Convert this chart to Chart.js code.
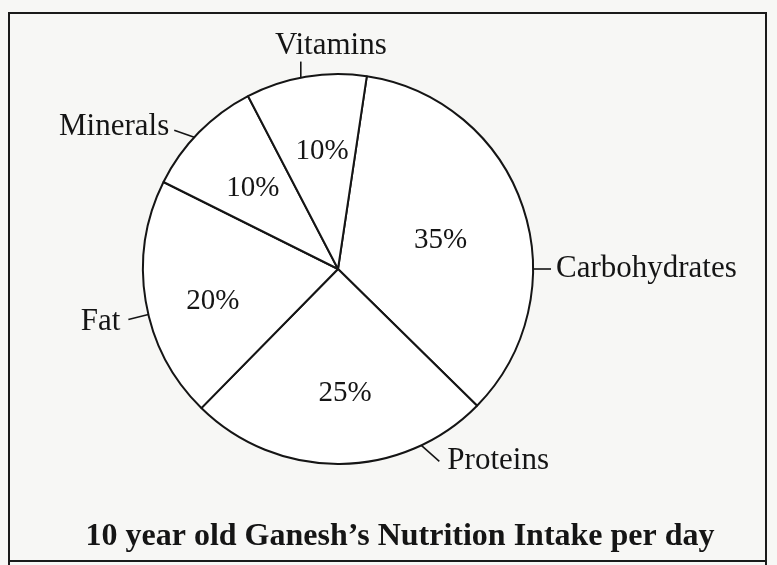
<!DOCTYPE html>
<html lang="en">
<head>
    <meta charset="UTF-8">
    <title>10 year old Ganesh's Nutrition Intake per day</title>
    <script src="https://cdn.jsdelivr.net/npm/chart.js@4.4.4/dist/chart.umd.min.js"></script>
    <style>
        html, body { margin: 0; padding: 0; background: #f7f7f5; }
        .chart-container { width: 777px; height: 565px; position: relative; }
    </style>
</head>
<body>
    <div class="chart-container">
        <canvas id="pie-chart"></canvas>
    </div>

    <script>
        // Data
        const nutrients = ['Carbohydrates', 'Proteins', 'Fat', 'Minerals', 'Vitamins'];
        const shares = [35, 25, 20, 10, 10];
        const title = '10 year old Ganesh\u2019s Nutrition Intake per day';

        const ink = '#151515';
        const serif = '"Liberation Serif", "DejaVu Serif", serif';

        // where the leader ticks sit (degrees clockwise from top) and how the names hang off them
        const leaders = [
            { angle: 90,    vec: [18, 0],   align: 'left',   dx: 5,  dy: 0 },
            { angle: 154.7, vec: [18, 16],  align: 'left',   dx: 8,  dy: 0 },
            { angle: 256.5, vec: [-20, 5],  align: 'right',  dx: -8, dy: 2 },
            { angle: 312.5, vec: [-20, -7], align: 'right',  dx: -5, dy: -3 },
            { angle: 349,   vec: [0, -16],  align: 'center', dx: 30, dy: -16 }
        ];
        // small nudges of the percentages away from the slice middles, as in the drawing
        const nudges = [[-12, 10], [6, 3], [-6, 12], [1, 4], [4, 2]];

        const framePlugin = {
            id: 'frame',
            beforeDraw(chart) {
                const ctx = chart.ctx;
                ctx.save();
                ctx.fillStyle = '#f7f7f5';
                ctx.fillRect(0, 0, chart.width, chart.height);
                ctx.strokeStyle = '#1a1a1a';
                ctx.lineWidth = 2;
                ctx.beginPath();
                ctx.moveTo(9, 570);
                ctx.lineTo(9, 13);
                ctx.lineTo(766, 13);
                ctx.lineTo(766, 570);
                ctx.moveTo(9, 561);
                ctx.lineTo(766, 561);
                ctx.stroke();
                ctx.restore();
            }
        };

        const labelPlugin = {
            id: 'pieLabels',
            afterDatasetsDraw(chart) {
                const ctx = chart.ctx;
                const arcs = chart.getDatasetMeta(0).data;
                ctx.save();
                ctx.fillStyle = ink;
                ctx.strokeStyle = ink;
                ctx.lineWidth = 1.6;
                ctx.textBaseline = 'middle';

                arcs.forEach((arc, i) => {
                    const cx = arc.x, cy = arc.y, r = arc.outerRadius;

                    // percentage inside the slice
                    const mid = (arc.startAngle + arc.endAngle) / 2;
                    ctx.font = '29px ' + serif;
                    ctx.textAlign = 'center';
                    ctx.fillText(shares[i] + '%',
                        cx + Math.cos(mid) * r * 0.62 + nudges[i][0],
                        cy + Math.sin(mid) * r * 0.62 + nudges[i][1]);

                    // leader tick and name outside
                    const L = leaders[i];
                    const a = (L.angle - 90) * Math.PI / 180;
                    const sx = cx + Math.cos(a) * r, sy = cy + Math.sin(a) * r;
                    const ex = sx + L.vec[0], ey = sy + L.vec[1];
                    ctx.beginPath();
                    ctx.moveTo(sx, sy);
                    ctx.lineTo(ex, ey);
                    ctx.stroke();
                    ctx.font = '31px ' + serif;
                    ctx.textAlign = L.align;
                    ctx.fillText(nutrients[i], ex + L.dx, ey + L.dy);
                });

                ctx.font = 'bold 32px ' + serif;
                ctx.textAlign = 'center';
                ctx.fillText(title, 400, 537);
                ctx.restore();
            }
        };

        new Chart(document.getElementById('pie-chart'), {
            type: 'pie',
            data: {
                labels: nutrients,
                datasets: [{
                    data: shares,
                    backgroundColor: '#ffffff',
                    borderColor: ink,
                    borderWidth: 2,
                    hoverOffset: 0
                }]
            },
            options: {
                responsive: true,
                maintainAspectRatio: false,
                animation: false,
                rotation: 8.5,
                layout: { padding: { left: 142, right: 243, top: 72, bottom: 99 } },
                plugins: {
                    legend: { display: false },
                    tooltip: { enabled: false },
                    title: { display: false }
                }
            },
            plugins: [framePlugin, labelPlugin]
        });
    </script>
</body>
</html>
